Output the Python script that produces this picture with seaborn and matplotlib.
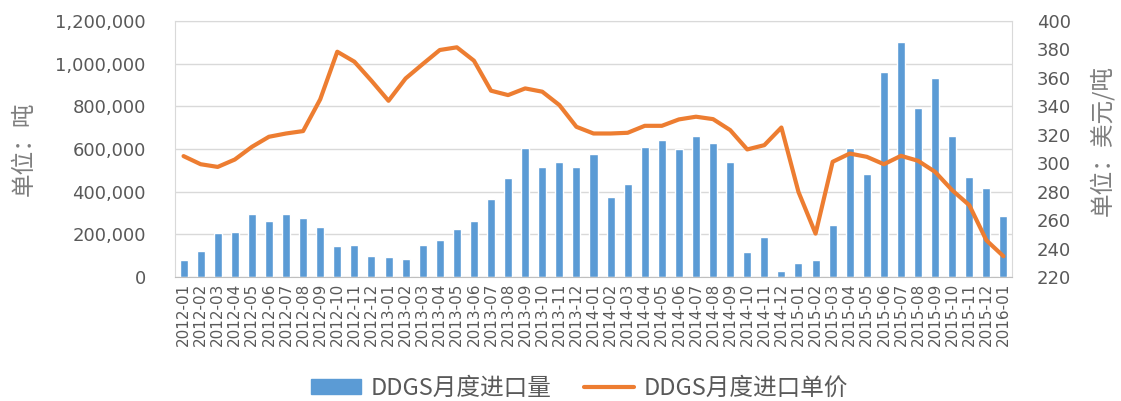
import numpy as np
import pandas as pd
import matplotlib
matplotlib.use("Agg")
import matplotlib.pyplot as plt
import seaborn as sns
from matplotlib.patches import Patch
from matplotlib.lines import Line2D
from matplotlib.ticker import FuncFormatter, FixedLocator

months = [f"{y}-{m:02d}" for y in range(2012, 2016) for m in range(1, 13)] + ["2016-01"]

# monthly import volume (t)
volume = [78000, 122000, 205000, 210000, 294000, 261000, 294000, 277000, 233000, 144000,
          149000, 100000, 94000, 83000, 150000, 172000, 227000, 261000, 366000, 465000,
          604000, 515000, 537000, 515000, 576000, 377000, 438000, 609000, 642000, 598000,
          659000, 626000, 537000, 116000, 188000, 27000, 66000, 78000, 243000, 604000,
          482000, 960000, 1102000, 792000, 931000, 659000, 467000, 419000, 288000]

# monthly import unit price (USD/t)
price = [305.0, 299.3, 297.4, 302.6, 311.5, 318.6, 320.9, 322.6, 344.9, 378.4,
         371.4, 358.0, 343.9, 359.6, 369.7, 379.6, 381.5, 372.1, 351.0, 347.9,
         352.6, 350.3, 340.9, 325.6, 320.9, 320.9, 321.4, 326.3, 326.3, 330.8,
         332.7, 331.0, 323.3, 309.7, 312.7, 325.1, 279.8, 250.5, 301.0, 306.8,
         304.5, 299.3, 305.2, 301.7, 293.9, 281.0, 270.5, 245.8, 234.6]

bar_label = "DDGS月度进口量"
line_label = "DDGS月度进口单价"

df = pd.DataFrame({"month": months, "volume": volume, "price": price, "pos": np.arange(len(months))})

sns.set_style("white")
plt.rcParams["font.family"] = ["Noto Sans CJK SC", "DejaVu Sans"]

grey = "#595959"
blue = "#5B9BD5"
orange = "#ED7D31"

fig = plt.figure(figsize=(11.21, 4.01), dpi=100)
ax = fig.add_axes([175 / 1121, 1 - 277 / 401, (1012 - 175) / 1121, (277 - 21) / 401])

sns.barplot(data=df, x="month", y="volume", color=blue, saturation=1, width=0.47, ax=ax)
ax.set_ylim(0, 1200000)
ax.set_yticks(np.arange(0, 1200001, 200000))
ax.yaxis.set_major_formatter(FuncFormatter(lambda v, p: f"{int(v):,}"))
ax.grid(axis="y", color="#D9D9D9", linewidth=1)
ax.set_axisbelow(True)
ax.set_xlim(-0.5, len(months) - 0.5)
ax.set_xlabel("")
ax.set_ylabel("单位：吨", fontsize=17, color="#7F7F7F")
ax.yaxis.set_label_coords(-0.166, 0.5)
ax.tick_params(axis="y", labelsize=13, colors=grey, length=0, pad=21)
ax.tick_params(axis="x", which="major", colors=grey, length=0, pad=4, rotation=90)
ax.xaxis.set_minor_locator(FixedLocator(np.arange(-0.5, len(months), 1)))
ax.tick_params(axis="x", which="minor", length=5, color="#BFBFBF", width=1)
for s in ["left", "right", "top"]:
    ax.spines[s].set_color("#D9D9D9")
ax.spines["bottom"].set_color("#BFBFBF")
for lbl in ax.get_xticklabels():
    lbl.set_family("DejaVu Sans")
    lbl.set_fontsize(11)
for lbl in ax.get_yticklabels():
    lbl.set_family("DejaVu Sans")

ax2 = ax.twinx()
sns.lineplot(data=df, x="pos", y="price", color=orange, linewidth=3, ax=ax2)
ax2.set_ylim(220, 400)
ax2.set_yticks(np.arange(220, 401, 20))
ax2.set_ylabel("单位：美元/吨", fontsize=17, color="#7F7F7F")
ax2.yaxis.set_label_coords(1.093, 0.535)
ax2.tick_params(axis="y", labelsize=13, colors=grey, length=0, pad=18)
for lbl in ax2.get_yticklabels():
    lbl.set_family("DejaVu Sans")
for s in ax2.spines.values():
    s.set_visible(False)
ax2.grid(False)
ax2.set_xlim(-0.5, len(months) - 0.5)
ax2.set_xlabel("")

handles = [Patch(facecolor=blue, edgecolor=blue), Line2D([0], [0], color=orange, linewidth=3)]
fig.legend(handles, [bar_label, line_label], loc="center", bbox_to_anchor=(0.517, 1 - 388 / 401),
           ncol=2, frameon=False, fontsize=17, labelcolor=grey, handlelength=2.1,
           handleheight=0.6, handletextpad=0.4, columnspacing=1.4)

fig.savefig("out.png", dpi=100)
